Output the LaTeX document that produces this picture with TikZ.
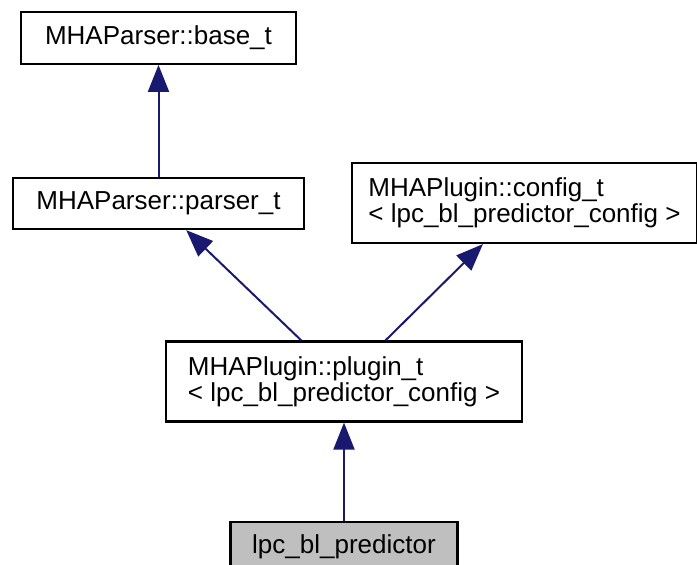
\documentclass[tikz,border=0pt]{standalone}
\usepackage{fontspec}
\setmainfont{Liberation Sans}
\usepackage{tikz}
\usetikzlibrary{arrows.meta, positioning}
\definecolor{azulMarino}{HTML}{191970}
\definecolor{grisHoja}{HTML}{BFBFBF}

\begin{document}
\begin{tikzpicture}[x=1pt, y=-1pt, font=\fontsize{26}{26}\selectfont,
        cls/.style={draw=black, line width=2.2pt, fill=white, inner sep=0pt, align=center},
        tpl/.style={cls, align=left, minimum height=80pt},
        hoja/.style={cls, fill=grisHoja},
        inh/.style={-{Triangle[length=27pt, width=21pt]}, draw=azulMarino, line width=2pt}]
        \useasboundingbox (0,0) rectangle (697,565);
        \node[cls, minimum width=291pt, minimum height=51pt] (parser) at (158.5,203.5) {MHAParser::parser\_t};
        \node[cls, minimum width=275pt, minimum height=52pt, above=112pt of parser] (base) {MHAParser::base\_t};
        \node[tpl, minimum width=345pt] (config) at (524.5,203) {MHAPlugin::config\_t\\< lpc\_bl\_predictor\_config >};
        \node[tpl, minimum width=356pt] (plugin) at (344,381.5) {MHAPlugin::plugin\_t\\< lpc\_bl\_predictor\_config >};
        \node[hoja, minimum width=227pt, minimum height=50pt, below=98pt of plugin] (pred) {lpc\_bl\_predictor};
        \draw[inh] (parser) -- (base);
        \draw[inh] (plugin) -- (parser);
        \draw[inh] (plugin) -- (config);
        \draw[inh] (pred) -- (plugin);
    \end{tikzpicture}
\end{document}
